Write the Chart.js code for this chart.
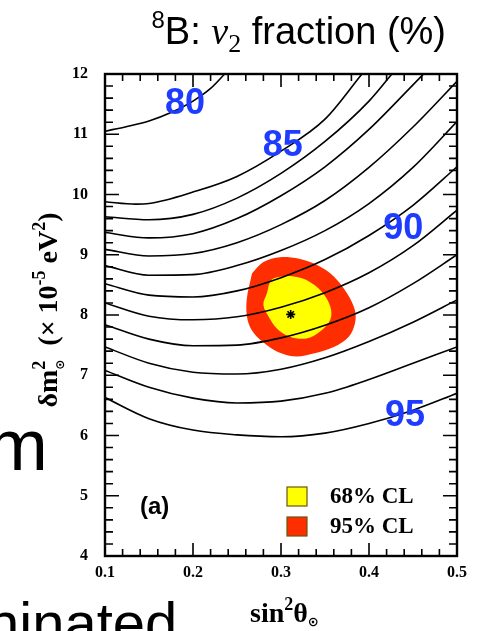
<!DOCTYPE html>
<html>
<head>
<meta charset="utf-8">
<script src="https://cdn.jsdelivr.net/npm/chart.js@4.4.1/dist/chart.umd.min.js"></script>
<style>
  html, body { margin: 0; padding: 0; background: #fff; }
  #wrap { width: 483px; height: 631px; position: relative; overflow: hidden; }
</style>
</head>
<body>
<div id="wrap"><canvas id="chart" width="483" height="631"></canvas></div>
<script>
// ν2 fraction contours, [sin²θ, δm² (1e-5 eV²)] pairs per level
const levels = [80, 85, 86, 87, 88, 89, 90, 91, 92, 93, 94, 95];
const c80 = [[0.10, 11.05], [0.125, 11.13], [0.15, 11.22], [0.175, 11.36], [0.20, 11.55], [0.22, 11.76], [0.236, 12.0]];
const c85 = [[0.10, 9.88], [0.135, 9.84], [0.15, 9.85], [0.20, 10.04], [0.25, 10.30], [0.30, 10.72], [0.35, 11.25], [0.392, 12.0]];
const c86 = [[0.10, 9.63], [0.15, 9.58], [0.20, 9.67], [0.25, 9.94], [0.30, 10.35], [0.35, 10.88], [0.40, 11.55], [0.426, 12.0]];
const c87 = [[0.10, 9.37], [0.15, 9.28], [0.20, 9.35], [0.25, 9.60], [0.30, 9.98], [0.35, 10.46], [0.40, 11.08], [0.45, 11.82], [0.462, 12.0]];
const c88 = [[0.10, 9.09], [0.15, 8.98], [0.20, 9.02], [0.25, 9.20], [0.30, 9.50], [0.35, 9.90], [0.40, 10.45], [0.45, 11.12], [0.50, 11.88]];
const c89 = [[0.10, 8.82], [0.15, 8.66], [0.20, 8.67], [0.25, 8.82], [0.30, 9.07], [0.35, 9.40], [0.40, 9.85], [0.45, 10.45], [0.50, 11.21]];
const c90 = [[0.10, 8.52], [0.15, 8.33], [0.20, 8.30], [0.25, 8.40], [0.30, 8.62], [0.35, 8.92], [0.40, 9.32], [0.45, 9.82], [0.50, 10.46]];
const c91 = [[0.10, 8.20], [0.15, 7.98], [0.20, 7.92], [0.25, 7.97], [0.30, 8.13], [0.35, 8.37], [0.40, 8.70], [0.45, 9.15], [0.50, 9.74]];
const c92 = [[0.10, 7.84], [0.15, 7.60], [0.20, 7.49], [0.25, 7.50], [0.30, 7.62], [0.35, 7.83], [0.40, 8.12], [0.45, 8.52], [0.50, 9.00]];
const c93 = [[0.10, 7.47], [0.15, 7.20], [0.20, 7.05], [0.25, 7.02], [0.30, 7.10], [0.35, 7.29], [0.40, 7.56], [0.45, 7.88], [0.50, 8.25]];
const c94 = [[0.10, 7.08], [0.15, 6.80], [0.20, 6.62], [0.25, 6.54], [0.30, 6.57], [0.35, 6.70], [0.40, 6.93], [0.45, 7.20], [0.50, 7.47]];
const c95 = [[0.10, 6.63], [0.15, 6.28], [0.20, 6.09], [0.25, 6.01], [0.30, 5.98], [0.35, 6.04], [0.40, 6.20], [0.45, 6.42], [0.50, 6.70]];
const contours = [c80, c85, c86, c87, c88, c89, c90, c91, c92, c93, c94, c95];

// allowed regions
const cl68Sin = [0.284, 0.289, 0.301, 0.314, 0.329, 0.346, 0.356, 0.356, 0.344, 0.329, 0.310, 0.295, 0.286, 0.280, 0.284];
const cl68Dm2 = [8.36, 8.58, 8.64, 8.64, 8.58, 8.39, 8.14, 7.92, 7.72, 7.61, 7.64, 7.78, 7.97, 8.17, 8.36];
const cl95Sin = [0.267, 0.280, 0.299, 0.318, 0.341, 0.360, 0.375, 0.384, 0.384, 0.377, 0.360, 0.337, 0.318, 0.301, 0.284, 0.269, 0.262, 0.261, 0.267];
const cl95Dm2 = [8.69, 8.88, 8.96, 8.94, 8.83, 8.64, 8.36, 8.08, 7.86, 7.64, 7.47, 7.36, 7.31, 7.36, 7.50, 7.70, 7.92, 8.25, 8.69];
const bestSin = 0.311, bestDm2 = 8.01;

// level tags written on the plot
const tagText = ['80', '85', '90', '95'];
const tagSin = [0.191, 0.302, 0.439, 0.441];
const tagDm2 = [11.52, 10.82, 9.44, 6.34];

const sinTicks = [0.1, 0.2, 0.3, 0.4, 0.5];
const dm2Ticks = [4, 5, 6, 7, 8, 9, 10, 11, 12];

const toXY = (xs, ys) => xs.map((x, i) => ({ x: x, y: ys[i] }));

const datasets = [];
datasets.push({
    label: 'best fit',
    data: [{ x: bestSin, y: bestDm2 }],
    pointStyle: 'star', pointRadius: 4.5, borderColor: '#000', borderWidth: 1.6,
    order: 0
});
contours.forEach((c, i) => {
    datasets.push({
        label: levels[i] + '%',
        data: c.map(p => ({ x: p[0], y: p[1] })),
        showLine: true, borderColor: '#000', borderWidth: 1.6, pointRadius: 0,
        cubicInterpolationMode: 'monotone', fill: false,
        order: 1
    });
});
datasets.push({
    label: '68% CL',
    data: toXY(cl68Sin, cl68Dm2),
    showLine: true, borderWidth: 0, pointRadius: 0, tension: 0.35,
    backgroundColor: '#ffff00', borderColor: '#ffff00', fill: 'shape',
    order: 2
});
datasets.push({
    label: '95% CL',
    data: toXY(cl95Sin, cl95Dm2),
    showLine: true, borderWidth: 0, pointRadius: 0, tension: 0.35,
    backgroundColor: '#ff2e00', borderColor: '#ff2e00', fill: 'shape',
    order: 3
});

// draws a run of text pieces (big / sup / sub) left to right, returns width
function runText(ctx, parts, x, y, measureOnly) {
    let cx = x;
    parts.forEach(p => {
        ctx.font = p.font;
        const w = ctx.measureText(p.t).width;
        if (!measureOnly) ctx.fillText(p.t, cx, y + (p.dy || 0));
        if (!p.stack) cx += w;
    });
    return cx - x;
}

const serifB = n => 'bold ' + n + 'px "Liberation Serif", serif';

const decorations = {
    id: 'decorations',
    afterDatasetsDraw(chart) {
        const { ctx, scales: { x, y } } = chart;
        ctx.save();
        ctx.fillStyle = '#1e3cff';
        ctx.font = 'bold 36px "Liberation Sans", Arial, sans-serif';
        ctx.textAlign = 'center';
        ctx.textBaseline = 'middle';
        tagText.forEach((t, i) => {
            ctx.fillText(t, x.getPixelForValue(tagSin[i]), y.getPixelForValue(tagDm2[i]) + 1);
        });
        ctx.restore();
    },
    afterDraw(chart) {
        const { ctx, chartArea: a, scales: { x, y } } = chart;
        ctx.save();
        // inward ticks on all four sides
        ctx.strokeStyle = '#000';
        ctx.lineWidth = 1.6;
        ctx.beginPath();
        for (let i = 0; i <= 20; i++) {
            const px = x.getPixelForValue(0.1 + i * 0.02);
            const len = i % 5 === 0 ? 13 : 7;
            ctx.moveTo(px, a.bottom); ctx.lineTo(px, a.bottom - len);
            ctx.moveTo(px, a.top); ctx.lineTo(px, a.top + len);
        }
        for (let i = 0; i <= 40; i++) {
            const py = y.getPixelForValue(4 + i * 0.2);
            const len = i % 5 === 0 ? 14 : 8;
            ctx.moveTo(a.left, py); ctx.lineTo(a.left + len, py);
            ctx.moveTo(a.right, py); ctx.lineTo(a.right - len, py);
        }
        ctx.stroke();
        ctx.lineWidth = 2.4;
        ctx.strokeRect(a.left, a.top, a.right - a.left, a.bottom - a.top);

        ctx.fillStyle = '#000';
        ctx.textBaseline = 'alphabetic';
        ctx.textAlign = 'left';

        // title
        const big = '38px "Liberation Sans", Arial, sans-serif';
        const title = [
            { t: '8', font: '24px "Liberation Sans", sans-serif', dy: -16 },
            { t: 'B: ', font: big },
            { t: 'ν', font: 'italic 38px "Liberation Serif", serif' },
            { t: '2', font: '26px "Liberation Serif", serif', dy: 8 },
            { t: ' fraction (%)', font: big }
        ];
        const tw = runText(ctx, title, 0, 0, true);
        runText(ctx, title, 446 - tw, 44);

        // x axis title
        const xt = [
            { t: 'sin', font: serifB(28) },
            { t: '2', font: serifB(18), dy: -12 },
            { t: 'θ', font: serifB(28) },
            { t: '⊙', font: 'bold 13px "DejaVu Sans", sans-serif', dy: 4 }
        ];
        runText(ctx, xt, 250, 622);

        // y axis title, rotated
        const yt = [
            { t: 'δm', font: serifB(28) },
            { t: '2', font: serifB(18), dy: -12, stack: true },
            { t: '⊙', font: 'bold 12px "DejaVu Sans", sans-serif', dy: 7 },
            { t: '  (× 10', font: serifB(28) },
            { t: '-5', font: serifB(18), dy: -12 },
            { t: ' eV', font: serifB(28) },
            { t: '2', font: serifB(18), dy: -12 },
            { t: ')', font: serifB(28) }
        ];
        const yw = runText(ctx, yt, 0, 0, true);
        ctx.save();
        ctx.translate(57, 310);
        ctx.rotate(-Math.PI / 2);
        runText(ctx, yt, -yw / 2, 0);
        ctx.restore();

        // panel tag
        ctx.font = 'bold 24px "Liberation Sans", Arial, sans-serif';
        ctx.textBaseline = 'middle';
        ctx.fillText('(a)', 140, 507);

        // legend for the allowed regions
        const boxes = chart.data.datasets.filter(d => d.fill === 'shape');
        ctx.font = serifB(23);
        boxes.forEach((d, i) => {
            const top = 487 + i * 30;
            ctx.fillStyle = d.backgroundColor;
            ctx.fillRect(287, top, 20, 19);
            ctx.strokeStyle = '#6a5410';
            ctx.lineWidth = 1.2;
            ctx.strokeRect(287, top, 20, 19);
            ctx.fillStyle = '#000';
            ctx.fillText(d.label, 330, top + 10);
        });

        // slide text behind the figure
        ctx.textBaseline = 'alphabetic';
        ctx.font = '73px "Liberation Sans", Arial, sans-serif';
        ctx.fillText('m', -13, 470);
        ctx.font = '58px "Liberation Sans", Arial, sans-serif';
        ctx.fillText('ninated', -13, 643);
        ctx.restore();
    }
};

const tickFont = { family: '"Liberation Serif", serif', weight: 'bold', size: 16 };

new Chart(document.getElementById('chart'), {
    type: 'scatter',
    data: { datasets: datasets },
    options: {
        responsive: false,
        animation: false,
        layout: { padding: { top: 74, right: 26, left: 0, bottom: 0 } },
        plugins: { legend: { display: false }, tooltip: { enabled: false } },
        scales: {
            x: {
                type: 'linear', min: sinTicks[0], max: sinTicks[sinTicks.length - 1],
                grid: { display: false, drawTicks: false }, border: { display: false },
                afterBuildTicks: s => { s.ticks = sinTicks.map(v => ({ value: v })); },
                ticks: { padding: 7, color: '#000', font: tickFont, maxRotation: 0, callback: v => v.toFixed(1) },
                afterFit: s => { s.height = 75; }
            },
            y: {
                type: 'linear', min: dm2Ticks[0], max: dm2Ticks[dm2Ticks.length - 1],
                grid: { display: false, drawTicks: false }, border: { display: false },
                afterBuildTicks: s => { s.ticks = dm2Ticks.map(v => ({ value: v })); },
                ticks: { padding: 17, color: '#000', font: tickFont, callback: v => String(v) },
                afterFit: s => { s.width = 105; }
            }
        }
    },
    plugins: [decorations]
});
</script>
</body>
</html>
